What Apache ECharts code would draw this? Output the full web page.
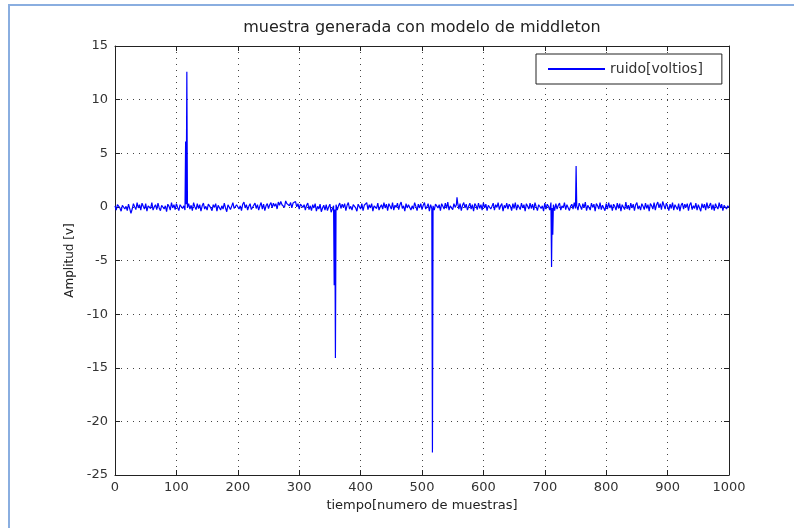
<!DOCTYPE html>
<html>
<head>
<meta charset="utf-8">
<script src="https://cdn.jsdelivr.net/npm/echarts@6/dist/echarts.min.js"></script>
<style>html,body{margin:0;padding:0;background:#fff;}#c{width:794px;height:528px;}</style>
</head>
<body>
<div id="c"></div>
<script>
const titleText = 'muestra generada con modelo de middleton';
const xLabel = 'tiempo[numero de muestras]';
const yLabel = 'Amplitud [v]';
const seriesName = 'ruido[voltios]';
const xTicks = [0,100,200,300,400,500,600,700,800,900,1000];
const yTicks = [-25,-20,-15,-10,-5,0,5,10,15];
const noiseStep = 2;
const noise = [
 0.1,-0.3,0.2,0.35,-0.1,-0.4,0.15,0.3,-0.2,0.05,-0.35,0.25,0.1,-0.6,-0.2,0.3,0.0,-0.25,0.4,-0.1,
 0.2,-0.3,0.35,0.05,-0.2,0.3,-0.4,0.1,0.25,-0.15,0.4,-0.3,0.0,0.2,-0.25,0.35,-0.1,-0.35,0.15,0.3,
 -0.2,0.1,-0.45,0.25,0.05,-0.3,0.4,-0.1,0.2,-0.25,0.3,-0.05,-0.35,0.2,0.35,-0.15,0.1,-0.3,0.25,-0.1,
 0.3,-0.2,0.15,-0.35,0.4,0.0,-0.25,0.3,-0.15,0.2,-0.4,0.1,0.35,-0.2,0.05,-0.3,0.25,0.4,-0.1,-0.35,
 0.2,-0.05,0.3,-0.4,0.15,0.25,-0.3,0.1,-0.2,0.35,-0.1,-0.45,0.2,0.3,-0.25,0.05,0.4,-0.15,-0.3,0.2,
 0.35,-0.2,0.1,-0.35,0.25,0.45,-0.1,0.2,-0.3,0.05,0.3,-0.25,-0.4,0.15,0.35,-0.15,0.2,-0.3,0.1,0.4,
 -0.2,0.25,-0.35,0.1,0.3,-0.15,0.2,0.4,-0.1,0.35,0.05,0.3,-0.2,0.45,0.15,0.5,0.2,0.35,-0.05,0.55,
 0.3,0.45,0.1,0.4,-0.1,0.35,0.2,0.5,0.0,0.3,-0.2,0.25,0.4,-0.05,0.2,-0.3,0.15,0.35,-0.25,0.1,
 -0.35,0.2,-0.1,0.3,-0.4,0.05,-0.2,0.25,-0.45,-0.1,0.15,-0.3,0.2,-0.35,0.0,0.25,-0.5,-0.2,0.1,-0.25,
 0.2,-0.3,0.1,0.35,-0.15,0.25,-0.05,0.3,-0.35,0.15,0.4,-0.2,0.05,-0.3,0.2,0.35,-0.1,-0.4,0.25,0.1,
 -0.2,0.3,-0.35,0.15,0.05,0.4,-0.25,0.2,-0.1,0.3,-0.4,0.1,0.25,-0.15,0.35,-0.3,0.0,0.2,-0.2,0.4,
 -0.1,0.25,-0.35,0.3,0.05,-0.2,0.4,-0.3,0.15,-0.05,0.35,-0.25,0.2,0.45,-0.15,0.1,-0.4,0.3,-0.1,0.2,
 0.35,-0.3,0.1,-0.2,0.4,0.05,-0.35,0.25,-0.1,0.3,-0.25,0.15,0.4,-0.2,0.0,0.3,-0.4,0.2,-0.15,0.1,
 -0.3,0.25,0.4,-0.1,0.2,-0.35,0.3,0.05,-0.2,0.35,-0.15,0.45,-0.3,0.1,0.25,-0.25,0.3,-0.05,0.2,0.4,
 -0.2,0.3,-0.35,0.15,0.4,-0.1,0.25,-0.3,0.05,0.35,-0.2,0.2,-0.4,0.3,0.1,-0.25,0.35,-0.15,0.2,-0.3,
 0.4,-0.1,0.25,-0.35,0.15,0.3,-0.2,0.05,0.35,-0.3,0.2,-0.05,0.4,-0.25,0.1,0.3,-0.4,0.15,-0.1,0.35,
 -0.2,0.25,0.05,-0.35,0.3,-0.15,0.4,-0.3,0.2,0.1,-0.25,0.35,-0.1,0.2,-0.4,0.3,0.05,-0.2,0.35,-0.15,
 0.25,-0.3,0.4,0.0,-0.35,0.2,0.3,-0.15,0.1,-0.4,0.35,-0.2,0.25,0.05,-0.3,0.4,-0.1,0.2,-0.35,0.3,
 -0.2,0.15,0.35,-0.3,0.1,-0.1,0.4,-0.25,0.2,0.3,-0.35,0.05,0.25,-0.2,0.4,-0.15,0.1,-0.3,0.35,0.2,
 -0.25,0.3,-0.1,0.45,-0.35,0.15,0.2,-0.3,0.35,-0.05,0.25,-0.4,0.3,0.1,-0.2,0.4,-0.25,0.15,0.05,-0.35,
 0.3,-0.2,0.4,-0.1,0.2,-0.35,0.25,0.05,-0.3,0.35,-0.15,0.3,-0.4,0.2,0.1,-0.25,0.45,-0.2,0.15,-0.3,
 0.35,-0.1,0.25,-0.35,0.2,0.4,-0.2,0.1,-0.3,0.3,0.05,-0.25,0.35,-0.15,0.2,-0.4,0.3,0.1,-0.2,0.4,
 -0.3,0.2,0.45,-0.1,0.3,-0.25,0.5,0.15,-0.2,0.35,0.05,-0.35,0.25,-0.15,0.4,-0.3,0.2,0.1,-0.25,0.3,
 -0.4,0.15,0.35,-0.2,0.25,-0.05,0.3,-0.35,0.2,0.4,-0.25,0.1,-0.15,0.35,-0.3,0.2,0.05,-0.4,0.3,-0.1,
 0.25,-0.3,0.4,-0.15,0.1,0.35,-0.25,0.2,-0.35,0.3,0.0,-0.2,0.4,-0.1,0.25,-0.35,0.15,0.3,-0.2,0.1,
 -0.05
];
const spikeX = [115, 117, 357, 359, 517, 557, 711, 713, 751];
const spikeY = [6.1, 12.6, -7.3, -14.1, -22.9, 0.9, -5.6, -2.6, 3.8];

const pts = noise.map((v,i)=>[i*noiseStep, v]);
spikeX.forEach((x,i)=>pts.push([x, spikeY[i]]));
pts.sort((a,b)=>a[0]-b[0]);

const FONT = 'DejaVu Sans';
const chart = echarts.init(document.getElementById('c'), null, {renderer:'canvas'});
const gridLine = {show:true, lineStyle:{color:'#444', type:[1,5], width:1}};
const axisLineS = {show:true, onZero:false, lineStyle:{color:'#222', width:1}};
const tickS = {show:true, inside:true, length:5, lineStyle:{color:'#222'}};
chart.setOption({
  animation:false,
  backgroundColor:'#fff',
  title:{text:titleText, left:422, textAlign:'center', top:20, padding:0,
    textStyle:{fontFamily:FONT, fontSize:16, fontWeight:'normal', color:'#222'}},
  legend:{data:[seriesName], left:536, top:54, orient:'vertical',
    itemWidth:57, itemHeight:2, itemGap:0, icon:'rect',
    padding:[8,19,8,12], borderColor:'#222', borderWidth:1, backgroundColor:'#fff',
    textStyle:{fontFamily:FONT, fontSize:14, color:'#333'}},
  grid:{left:115, top:46, right:65, bottom:53, containLabel:false},
  xAxis:[
    {type:'value', min:xTicks[0], max:xTicks[xTicks.length-1], interval:100,
     axisLine:axisLineS, axisTick:tickS, splitLine:gridLine,
     axisLabel:{fontFamily:FONT, fontSize:13, color:'#333', margin:6, formatter:v=>String(v)},
     name:xLabel, nameLocation:'middle', nameGap:9,
     nameTextStyle:{fontFamily:FONT, fontSize:13, color:'#222', verticalAlign:'top'}},
    {type:'value', position:'top', min:xTicks[0], max:xTicks[xTicks.length-1], interval:100,
     axisLine:axisLineS, axisTick:tickS, splitLine:{show:false}, axisLabel:{show:false}}
  ],
  yAxis:[
    {type:'value', min:yTicks[0], max:yTicks[yTicks.length-1], interval:5,
     axisLine:axisLineS, axisTick:tickS, splitLine:gridLine,
     axisLabel:{fontFamily:FONT, fontSize:13, color:'#333', margin:7, formatter:v=>String(v)},
     name:yLabel, nameLocation:'middle', nameGap:35, nameRotate:90,
     nameTextStyle:{fontFamily:FONT, fontSize:12, color:'#222'}},
    {type:'value', position:'right', min:yTicks[0], max:yTicks[yTicks.length-1], interval:5,
     axisLine:axisLineS, axisTick:tickS, splitLine:{show:false}, axisLabel:{show:false}}
  ],
  graphic:[{type:'rect', shape:{x:9, y:5, width:820, height:600},
    style:{fill:'none', stroke:'#8aaee0', lineWidth:2}, silent:true}],
  series:[{name:seriesName, type:'line', data:pts, showSymbol:false, symbol:'none',
    xAxisIndex:0, yAxisIndex:0,
    lineStyle:{color:'#0000ff', width:1.2}, itemStyle:{color:'#0000ff'}}]
});
</script>
</body>
</html>
